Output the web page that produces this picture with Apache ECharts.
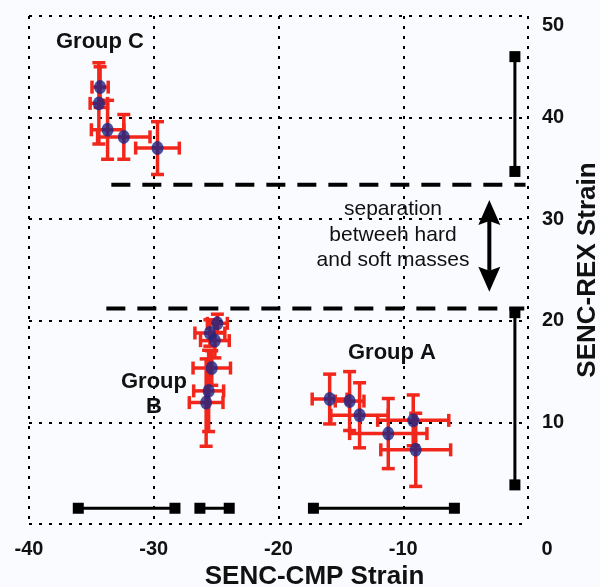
<!DOCTYPE html>
<html><head><meta charset="utf-8">
<script src="https://cdn.jsdelivr.net/npm/echarts@6/dist/echarts.min.js"></script>
<style>html,body{margin:0;padding:0;background:#f9fbfe}#c{width:600px;height:587px}</style>
</head><body><div id="c"></div>
<script>
// ---- data ----
const xTickValues = [-40, -30, -20, -10, 0];
const yTickValues = [0, 10, 20, 30, 40, 50];
const xTitle = 'SENC-CMP Strain';
const yTitle = 'SENC-REX Strain';

const groupA_x    = [-15.9, -14.3, -13.5, -11.2, -9.2, -9.0];
const groupA_y    = [12.3, 12.1, 10.7, 8.9, 10.2, 7.3];
const groupA_xErr = [1.4, 1.15, 2.3, 3.1, 2.85, 2.8];
const groupA_yErr = [2.45, 2.9, 3.2, 3.45, 2.5, 3.6];

const groupB_x    = [-24.9, -25.5, -25.1, -25.35, -25.6, -25.8];
const groupB_y    = [19.75, 18.8, 18.05, 15.35, 13.1, 11.95];
const groupB_xErr = [0.8, 1.2, 1.15, 1.5, 1.2, 1.35];
const groupB_yErr = [0.9, 1.3, 1.7, 1.7, 4.0, 4.3];

const groupC_x    = [-34.3, -34.4, -33.7, -32.4, -29.7];
const groupC_y    = [43.0, 41.4, 38.8, 38.1, 37.0];
const groupC_xErr = [0.65, 0.7, 1.3, 2.1, 1.75];
const groupC_yErr = [2.0, 4.0, 2.9, 2.2, 2.6];

// black range bars
const hRangeY = 1.55;
const hRanges = [[-36.05, -28.3], [-26.3, -23.95], [-17.2, -5.9]];
const vRangeX = -1.05;
const vRanges = [[34.7, 46.0], [3.85, 20.8]];

// separation dashed lines
const sepY      = [33.4, 21.2];
const sepXStart = [-33.4, -33.8];
const sepXEnd   = [-0.2, -0.3];

// double arrow (tips)
const arrowX = -3.1;
const arrowTop = 31.9;
const arrowBottom = 22.85;

// ---- style ----
const RED = '#f2271c';
const NAVY = '#1c2585';
const FONT = "Arial, 'Liberation Sans', Helvetica, sans-serif";

function errorBars(xs, ys, xe, ye) {
  return {
    type: 'custom', z: 3, silent: true,
    data: xs.map((x, i) => [x, ys[i], xe[i], ye[i]]),
    encode: { x: 0, y: 1 },
    renderItem(params, api) {
      const x = api.value(0), y = api.value(1), dx = api.value(2), dy = api.value(3);
      const l = api.coord([x - dx, y]), r = api.coord([x + dx, y]);
      const t = api.coord([x, y + dy]), b = api.coord([x, y - dy]);
      const c = 6.5;
      const style = { stroke: RED, lineWidth: 3.5, fill: null };
      const ln = (x1, y1, x2, y2) => ({ type: 'line', shape: { x1, y1, x2, y2 }, style });
      return { type: 'group', children: [
        ln(l[0], l[1], r[0], r[1]),
        ln(t[0], t[1], b[0], b[1]),
        ln(l[0], l[1] - c, l[0], l[1] + c),
        ln(r[0], r[1] - c, r[0], r[1] + c),
        ln(t[0] - c, t[1], t[0] + c, t[1]),
        ln(b[0] - c, b[1], b[0] + c, b[1])
      ]};
    }
  };
}
function points(xs, ys) {
  return { type: 'scatter', z: 5, symbol: 'circle', symbolSize: [12, 14],
    itemStyle: { color: NAVY }, data: xs.map((x, i) => [x, ys[i]]) };
}
function rangeBar(data) {
  return { type: 'line', z: 4, data, symbol: 'rect', symbolSize: 11, showAllSymbol: true,
    lineStyle: { color: '#000', width: 3 }, itemStyle: { color: '#000' } };
}

const series = [];
series.push(errorBars(groupA_x, groupA_y, groupA_xErr, groupA_yErr));
series.push(errorBars(groupB_x, groupB_y, groupB_xErr, groupB_yErr));
series.push(errorBars(groupC_x, groupC_y, groupC_xErr, groupC_yErr));
series.push(points(groupA_x, groupA_y));
series.push(points(groupB_x, groupB_y));
series.push(points(groupC_x, groupC_y));
hRanges.forEach(r => series.push(rangeBar([[r[0], hRangeY], [r[1], hRangeY]])));
vRanges.forEach(r => series.push(rangeBar([[vRangeX, r[0]], [vRangeX, r[1]]])));
sepY.forEach((y, i) => series.push({
  type: 'line', z: 2, symbol: 'none', data: [[sepXStart[i], y], [sepXEnd[i], y]],
  lineStyle: { color: '#000', width: 4, type: [19, 12] }
}));
series.push({
  type: 'custom', z: 4, silent: true,
  data: [[arrowX, arrowTop, arrowBottom]],
  renderItem(params, api) {
    const tp = api.coord([api.value(0), api.value(1)]);
    const bp = api.coord([api.value(0), api.value(2)]);
    const hw = 11, hl = 25, notch = 4;
    return { type: 'group', children: [
      { type: 'line', shape: { x1: tp[0], y1: tp[1] + hl - 4, x2: bp[0], y2: bp[1] - hl + 4 },
        style: { stroke: '#000', lineWidth: 4 } },
      { type: 'polygon', shape: { points: [[tp[0], tp[1]], [tp[0] + hw, tp[1] + hl], [tp[0], tp[1] + hl - notch], [tp[0] - hw, tp[1] + hl]] },
        style: { fill: '#000' } },
      { type: 'polygon', shape: { points: [[bp[0], bp[1]], [bp[0] + hw, bp[1] - hl], [bp[0], bp[1] - hl + notch], [bp[0] - hw, bp[1] - hl]] },
        style: { fill: '#000' } }
    ]};
  }
});

const gridLine = { show: true, lineStyle: { color: '#000', width: 2, type: [3, 7] } };

const chart = echarts.init(document.getElementById('c'), null, { renderer: 'canvas' });
chart.setOption({
  animation: false,
  backgroundColor: '#f9fbfe',
  grid: { left: 29, right: 72, top: 16, bottom: 63, containLabel: false, outerBoundsMode: 'none' },
  xAxis: {
    type: 'value', min: xTickValues[0], max: xTickValues[xTickValues.length - 1], interval: 10,
    axisLine: { show: false }, axisTick: { show: false }, splitLine: gridLine,
    axisLabel: {
      fontSize: 20, fontWeight: 'bold', color: '#111', margin: 15, fontFamily: FONT,
      formatter: v => v === 0 ? '{z|0}' : String(v),
      rich: { z: { fontSize: 20, fontWeight: 'bold', color: '#111', fontFamily: FONT, padding: [0, 0, 0, 38] } }
    },
    name: xTitle, nameLocation: 'middle', nameGap: 38,
    nameTextStyle: { fontSize: 26, fontWeight: 'bold', color: '#111', fontFamily: FONT, padding: [0, 0, 0, 72] }
  },
  yAxis: {
    type: 'value', position: 'right', min: yTickValues[0], max: yTickValues[yTickValues.length - 1], interval: 10,
    axisLine: { show: false }, axisTick: { show: false }, splitLine: gridLine,
    axisLabel: {
      fontSize: 20, fontWeight: 'bold', color: '#111', margin: 14, fontFamily: FONT,
      formatter: v => v === 0 ? '' : (v === 50 ? '{t|50}' : String(v)),
      rich: { t: { fontSize: 20, fontWeight: 'bold', color: '#111', fontFamily: FONT, padding: [18, 0, 0, 0] } }
    },
    name: yTitle, nameLocation: 'middle', nameGap: 44, nameRotate: 90,
    nameTextStyle: { fontSize: 26, fontWeight: 'bold', color: '#111', fontFamily: FONT }
  },
  graphic: [
    { type: 'text', x: 100, y: 42, z: 10, style: { text: 'Group C', align: 'center', verticalAlign: 'middle',
      fontSize: 22, fontWeight: 'bold', fontFamily: FONT, fill: '#111' } },
    { type: 'text', x: 392, y: 353, z: 10, style: { text: 'Group A', align: 'center', verticalAlign: 'middle',
      fontSize: 22, fontWeight: 'bold', fontFamily: FONT, fill: '#111' } },
    { type: 'text', x: 154, y: 394, z: 10, style: { text: 'Group\nB', align: 'center', verticalAlign: 'middle',
      fontSize: 22, fontWeight: 'bold', fontFamily: FONT, fill: '#111', lineHeight: 25 } },
    { type: 'text', x: 393, y: 235, z: 10, style: { text: 'separation\nbetweeh hard\nand soft masses', align: 'center', verticalAlign: 'middle',
      fontSize: 21, fontFamily: FONT, fill: '#111', lineHeight: 25.5 } }
  ],
  series
});
</script></body></html>
